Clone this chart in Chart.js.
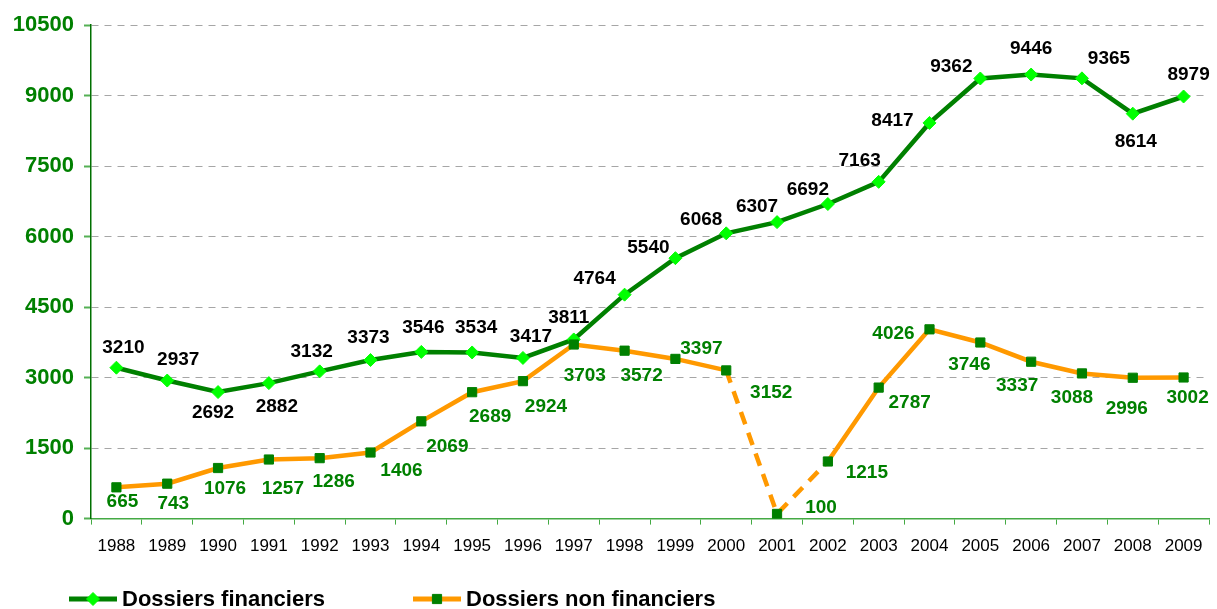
<!DOCTYPE html>
<html>
<head>
<meta charset="utf-8">
<title>Dossiers financiers / non financiers</title>
<script src="https://cdn.jsdelivr.net/npm/chart.js@4.4.1/dist/chart.umd.min.js"></script>
<style>
  html, body { margin: 0; padding: 0; background: #fff; }
  #wrap { width: 1217px; height: 609px; }
</style>
</head>
<body>
<div id="wrap"><canvas id="dossiersChart" width="1217" height="609"></canvas></div>
<script>
// data
const years = ["1988","1989","1990","1991","1992","1993","1994","1995","1996","1997","1998",
  "1999","2000","2001","2002","2003","2004","2005","2006","2007","2008","2009"];
const financiers = [3210, 2937, 2692, 2882, 3132, 3373, 3546, 3534, 3417, 3811, 4764,
  5540, 6068, 6307, 6692, 7163, 8417, 9362, 9446, 9365, 8614, 8979];
const nonFinanciers = [665, 743, 1076, 1257, 1286, 1406, 2069, 2689, 2924, 3703, 3572,
  3397, 3152, 100, 1215, 2787, 4026, 3746, 3337, 3088, 2996, 3002];
const seriesNames = ["Dossiers financiers", "Dossiers non financiers"];
const yMin = 0, yMax = 10500, yStep = 1500;
// segments drawn dashed (index of the first point)
const dashedFrom = [12, 13];

// label offsets in px, [dx, dy] from the marker
const finLabelPos = [[7,-20],[11,-21],[-5,21],[8,24],[-8,-20],[-2,-22],[2,-24],[4,-25],[8,-21],[-5,-22],[-30,-16],
  [-27,-10],[-25,-14],[-20,-15],[-20,-14],[-19,-21],[-37,-2],[-29,-12],[0,-26],[27,-20],[3,28],[5,-22]];
const nonFinLabelPos = [[6,14],[6,20],[7,21],[14,29],[14,24],[31,18],[26,25],[18,25],[23,26],[11,31],[17,25],
  [26,-10],[45,22],[44,-6],[39,11],[31,15],[-36,4],[-11,22],[-14,24],[-10,24],[-6,31],[4,20]];

const FONT = "'Liberation Sans', Arial, sans-serif";
const GREEN = "#008000";
const LIGHT = "#00FF00";
const ORANGE = "#FF9900";

const valueLabels = {
  id: "valueLabels",
  afterDatasetsDraw(chart) {
    const ctx = chart.ctx;
    ctx.save();
    ctx.font = "bold 19px " + FONT;
    ctx.textAlign = "center";
    ctx.textBaseline = "middle";
    chart.data.datasets.forEach((ds, di) => {
      const meta = chart.getDatasetMeta(di);
      const pos = ds.labelPos;
      ctx.fillStyle = ds.labelColor;
      meta.data.forEach((pt, i) => {
        ctx.fillText(String(ds.data[i]), pt.x + pos[i][0], pt.y + pos[i][1]);
      });
    });
    ctx.restore();
  }
};

const bottomLegend = {
  id: "bottomLegend",
  afterDraw(chart) {
    const ctx = chart.ctx;
    const y = 599;
    const items = [
      { x: 69, ds: chart.data.datasets[0] },
      { x: 413, ds: chart.data.datasets[1] }
    ];
    ctx.save();
    items.forEach((it) => {
      ctx.strokeStyle = it.ds.borderColor;
      ctx.lineWidth = 5;
      ctx.beginPath();
      ctx.moveTo(it.x, y);
      ctx.lineTo(it.x + 48, y);
      ctx.stroke();
      ctx.fillStyle = it.ds.pointBackgroundColor;
      ctx.strokeStyle = it.ds.pointBorderColor;
      ctx.lineWidth = 1;
      Chart.helpers.drawPoint(ctx, {
        pointStyle: it.ds.pointStyle,
        radius: it.ds.pointRadius,
        borderWidth: 1
      }, it.x + 24, y);
      ctx.fillStyle = "#000";
      ctx.font = "bold 22px " + FONT;
      ctx.textAlign = "left";
      ctx.textBaseline = "middle";
      ctx.fillText(it.ds.label, it.x + 53, y + 1);
    });
    ctx.restore();
  }
};

const ctx = document.getElementById("dossiersChart").getContext("2d");

new Chart(ctx, {
  type: "line",
  data: {
    labels: years,
    datasets: [
      {
        label: seriesNames[0],
        data: financiers,
        borderColor: GREEN,
        borderWidth: 4.5,
        pointStyle: "rectRot",
        pointRadius: 6.5,
        pointBackgroundColor: LIGHT,
        pointBorderColor: LIGHT,
        pointBorderWidth: 1,
        tension: 0,
        order: 1,
        labelPos: finLabelPos,
        labelColor: "#000"
      },
      {
        label: seriesNames[1],
        data: nonFinanciers,
        borderColor: ORANGE,
        borderWidth: 4.5,
        pointStyle: "rect",
        pointRadius: 6.5,
        pointBackgroundColor: GREEN,
        pointBorderColor: GREEN,
        pointBorderWidth: 1,
        tension: 0,
        order: 0,
        labelPos: nonFinLabelPos,
        labelColor: GREEN,
        segment: {
          borderDash: (c) => dashedFrom.includes(c.p0DataIndex) ? [13, 9] : undefined
        }
      }
    ]
  },
  options: {
    responsive: false,
    animation: false,
    layout: { padding: { top: 25, right: 8, bottom: 40, left: 0 } },
    plugins: {
      legend: { display: false },
      tooltip: { enabled: false }
    },
    scales: {
      x: {
        offset: true,
        grid: {
          offset: true,
          drawOnChartArea: false,
          drawTicks: true,
          tickLength: 6,
          tickColor: "#44AA44"
        },
        border: { color: "#44AA44", width: 1.5 },
        ticks: {
          color: "#000",
          font: { family: FONT, size: 17 },
          padding: 12,
          maxRotation: 0,
          autoSkip: false
        }
      },
      y: {
        min: yMin,
        max: yMax,
        afterFit(scale) { scale.width = 91; },
        grid: {
          color: (c) => c.tick && c.tick.value === 0 ? "rgba(0,0,0,0)" : "#A6A6A6",
          lineWidth: 1,
          tickLength: 7,
          tickColor: "#55B055",
          tickWidth: 2
        },
        border: { color: "#007000", width: 1.5, dash: [7, 6] },
        ticks: {
          stepSize: yStep,
          color: GREEN,
          font: { family: FONT, size: 22, weight: "bold" },
          padding: 10,
          callback: (v) => String(v)
        }
      }
    }
  },
  plugins: [valueLabels, bottomLegend]
});
</script>
</body>
</html>
